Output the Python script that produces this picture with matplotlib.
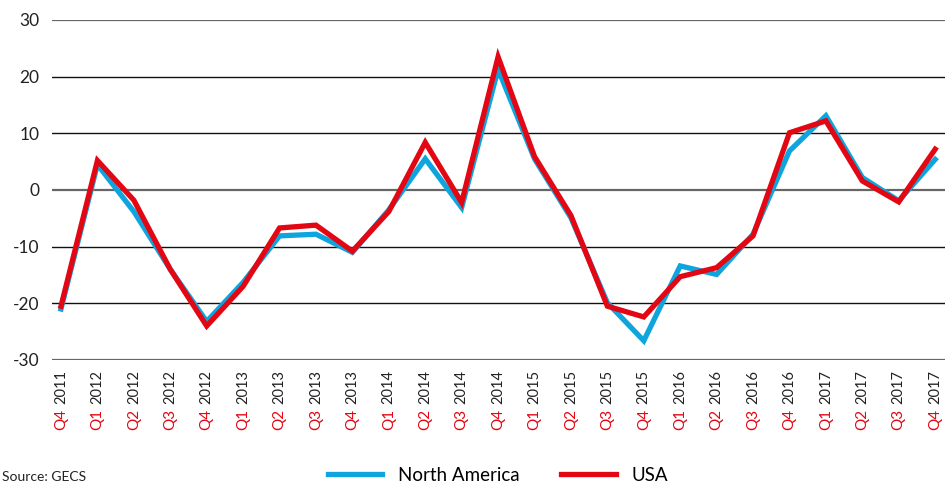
import matplotlib
matplotlib.use("Agg")
import matplotlib.pyplot as plt
from matplotlib.transforms import blended_transform_factory
from matplotlib.lines import Line2D

quarters = ["Q4", "Q1", "Q2", "Q3", "Q4", "Q1", "Q2", "Q3", "Q4", "Q1", "Q2", "Q3", "Q4",
            "Q1", "Q2", "Q3", "Q4", "Q1", "Q2", "Q3", "Q4", "Q1", "Q2", "Q3", "Q4"]
years = ["2011", "2012", "2012", "2012", "2012", "2013", "2013", "2013", "2013",
         "2014", "2014", "2014", "2014", "2015", "2015", "2015", "2015",
         "2016", "2016", "2016", "2016", "2017", "2017", "2017", "2017"]
north_america = [-21.0, 4.5, -3.8, -14.0, -23.2, -16.3, -8.1, -7.8, -11.0, -3.5, 5.5, -3.1, 21.3,
                 5.5, -4.9, -19.9, -26.6, -13.4, -14.9, -7.8, 6.9, 13.1, 2.2, -1.9, 5.4]
usa = [-20.5, 5.2, -1.8, -14.0, -24.0, -17.0, -6.7, -6.2, -10.8, -3.8, 8.4, -2.2, 23.5,
       5.9, -4.5, -20.5, -22.4, -15.3, -13.7, -8.1, 10.1, 12.2, 1.6, -2.1, 7.2]
y_ticks = [-30, -20, -10, 0, 10, 20, 30]

BLUE = "#0EA5DE"
RED = "#E30613"
FONT = "Lato"

W, H = 951, 486
fig = plt.figure(figsize=(W / 100, H / 100), dpi=100)
ax = fig.add_axes([52 / W, 1 - 360 / H, (945 - 52) / W, (360 - 20) / H])

x = list(range(len(years)))
ax.plot(x, north_america, color=BLUE, lw=3.8, solid_joinstyle="miter", zorder=3)
ax.plot(x, usa, color=RED, lw=3.8, solid_joinstyle="miter", zorder=4)

ax.set_ylim(-30, 30)
ax.set_xlim(-0.247, 24.27)
for v in y_ticks:
    if v in (-30, 0, 30):
        ax.axhline(v, color="#666666", lw=1.6, zorder=1)
    else:
        ax.axhline(v, color="#111111", lw=1.0, zorder=1)

ax.set_yticks(y_ticks)
ax.set_yticklabels([str(v) for v in y_ticks], fontsize=12.5, family=FONT, color="#222222")
ax.tick_params(axis="y", length=0, pad=9)
ax.set_xticks([])
for s in ax.spines.values():
    s.set_visible(False)

trans = blended_transform_factory(ax.transData, ax.transAxes)
for i, (q, yr) in enumerate(zip(quarters, years)):
    t = ax.text(i, -0.029, yr, transform=trans, rotation=90, ha="center", va="top",
                fontsize=10.5, family=FONT, color="#222222")
    ax.annotate(q, xy=(0.5, 0), xycoords=t, xytext=(0, -3.5), textcoords="offset points",
                rotation=90, ha="center", va="top", fontsize=11, family=FONT, color=RED)

handles = [Line2D([], [], color=BLUE, lw=3.8), Line2D([], [], color=RED, lw=3.8)]
fig.legend(handles, ["North America", "USA"], loc="center", bbox_to_anchor=(498 / W, 1 - 475 / H),
           ncol=2, frameon=False, prop={"family": FONT, "size": 13.5},
           handlelength=2.9, handletextpad=0.85, columnspacing=2.2,
           borderpad=0.2)

fig.text(0.002, 1 - 471 / H, "Source: GECS", ha="left", va="top", fontsize=10, family=FONT,
         color="#222222")

fig.savefig("out.png", dpi=100)
